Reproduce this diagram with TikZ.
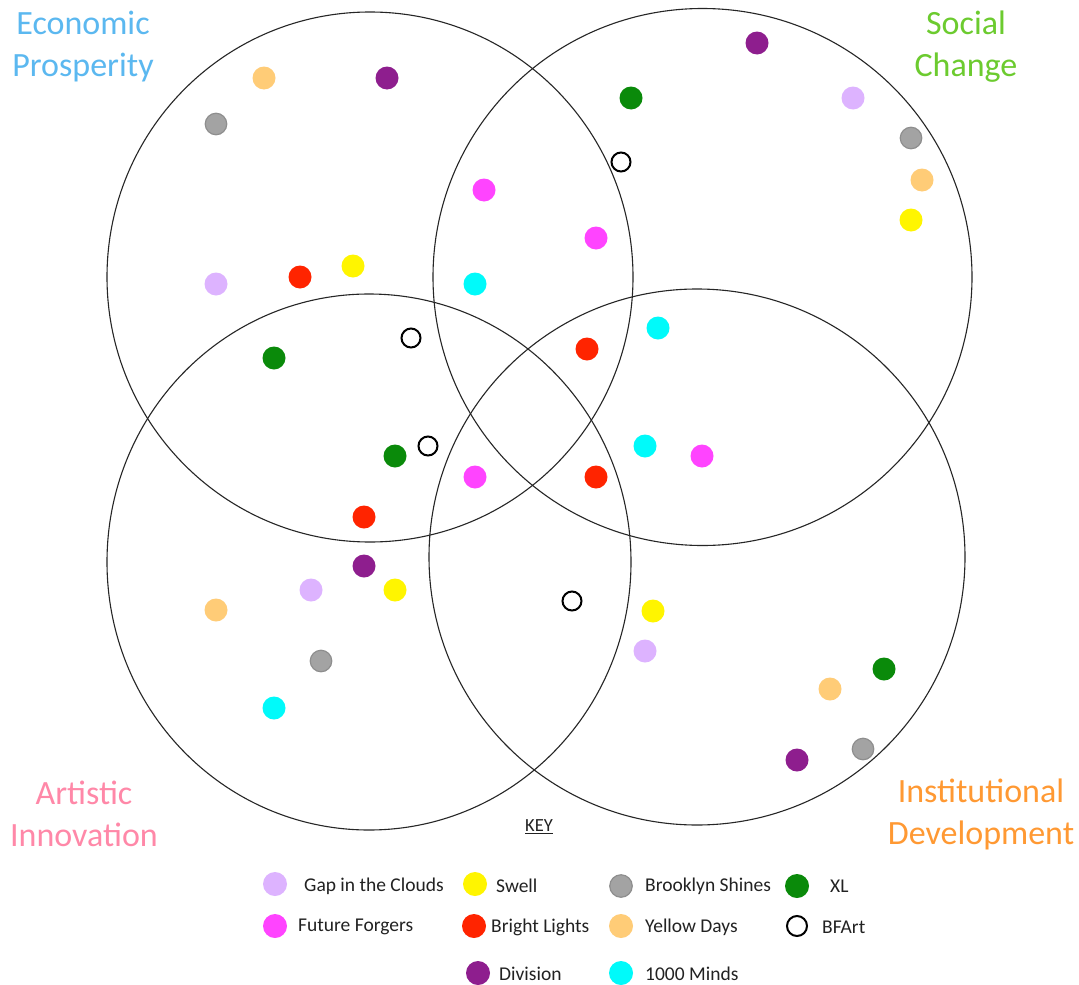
\documentclass[tikz,border=0pt]{standalone}
\usepackage{fontspec}
\setmainfont{Carlito}
\usetikzlibrary{shapes.geometric}
\definecolor{cgap}{HTML}{DDB3FF}
\definecolor{cswell}{HTML}{FFF500}
\definecolor{cbrook}{HTML}{A3A3A3}
\definecolor{cbrookb}{HTML}{8E8E8E}
\definecolor{cxl}{HTML}{0A8A0A}
\definecolor{cff}{HTML}{FF44FF}
\definecolor{cbl}{HTML}{FF2400}
\definecolor{cyd}{HTML}{FFCC77}
\definecolor{cdiv}{HTML}{8E1E8E}
\definecolor{cmind}{HTML}{00FAFA}
\definecolor{cecon}{HTML}{5BB8F0}
\definecolor{csoc}{HTML}{6CCB2F}
\definecolor{cart}{HTML}{FF88A8}
\definecolor{cinst}{HTML}{FF9933}
\definecolor{ctext}{HTML}{222222}
\tikzset{
  ring/.style={ellipse, draw=black!85, line width=1.1pt, inner sep=0pt, fill=none},
  dot/.style={circle, inner sep=0pt, minimum size=23pt, draw=none},
  gap/.style={dot, fill=cgap},
  swell/.style={dot, fill=cswell},
  brook/.style={dot, fill=cbrook, draw=cbrookb, line width=1.2pt, minimum size=21.5pt},
  xl/.style={dot, fill=cxl},
  ff/.style={dot, fill=cff},
  bl/.style={dot, fill=cbl},
  yd/.style={dot, fill=cyd},
  div/.style={dot, fill=cdiv},
  mind/.style={dot, fill=cmind},
  bfart/.style={dot, fill=white, draw=black, line width=2pt, minimum size=19pt},
  cat/.style={align=center, font=\fontsize{34}{42}\selectfont, inner sep=0pt},
  keytext/.style={anchor=west, inner sep=0pt, text=ctext, font=\fontsize{19.5}{22}\selectfont},
}
\begin{document}
\begin{tikzpicture}[x=1pt,y=-1pt]
\useasboundingbox (0,0) rectangle (1079,985);
\fill[white] (0,0) rectangle (1079,985);
% circles
\node[ring, minimum width=526pt, minimum height=530pt] (econ) at (370,277) {};
\node[ring, minimum width=539pt, minimum height=537pt] (soc) at (702.5,277) {};
\node[ring, minimum width=524pt, minimum height=536pt] (art) at (369,562) {};
\node[ring, minimum width=536pt, minimum height=536pt] (inst) at (697,557) {};
% category labels
\node[cat, text=cecon] (lecon) at (83,47) {Economic\\Prosperity};
\node[cat, text=csoc] (lsoc) at (966,47) {Social\\Change};
\node[cat, text=cart] (lart) at (84,814) {Artistic\\Innovation};
\node[cat, text=cinst] (linst) at (981,814) {Institutional\\Development};
% Economic dots
\node[yd] (e1) at (264,78) {};
\node[div] (e2) at (387,78) {};
\node[brook] (e3) at (216,124) {};
\node[gap] (e4) at (216,284) {};
\node[bl] (e5) at (300,277) {};
\node[swell] (e6) at (353,266) {};
\node[xl] (e7) at (274,358) {};
\node[bfart] (e8) at (411,338) {};
% Econ & Social
\node[ff] (es1) at (484,190) {};
\node[ff] (es2) at (596,238) {};
\node[mind] (es3) at (475,284) {};
% Social dots
\node[div] (s1) at (757,43) {};
\node[xl] (s2) at (631,98) {};
\node[gap] (s3) at (853,98) {};
\node[brook] (s4) at (911,138) {};
\node[yd] (s5) at (922,180) {};
\node[swell] (s6) at (911,220) {};
\node[bfart] (s7) at (621,162) {};
% Social & Institutional
\node[mind] (si1) at (658,328) {};
\node[bl] (si2) at (587,349) {};
\node[mind] (si3) at (645,446) {};
\node[ff] (si4) at (702,456) {};
\node[bl] (si5) at (596,477) {};
% centre-left
\node[xl] (c1) at (395,456) {};
\node[bfart] (c2) at (428,446) {};
\node[ff] (c3) at (475,477) {};
\node[bl] (c4) at (364,517) {};
% Artistic dots
\node[div] (a1) at (364,566) {};
\node[gap] (a2) at (311,590) {};
\node[swell] (a3) at (395,590) {};
\node[yd] (a4) at (216,610) {};
\node[brook] (a5) at (321,661) {};
\node[mind] (a6) at (274,708) {};
% Art & Inst
\node[bfart] (ai1) at (572,601) {};
% Institutional dots
\node[swell] (i1) at (653,611) {};
\node[gap] (i2) at (645,651) {};
\node[xl] (i3) at (884,669) {};
\node[yd] (i4) at (830,689) {};
\node[brook] (i5) at (863,749) {};
\node[div] (i6) at (797,760) {};
% Key
\node[inner sep=0pt, text=ctext, font=\fontsize{18.5}{20}\selectfont] (key) at (539,827) {\underline{KEY}};
\node[gap, minimum size=24pt] (k1) at (275,884) {};
\node[keytext] (k1t) at (304,886) {Gap in the Clouds};
\node[swell, minimum size=24pt] (k2) at (475,884) {};
\node[keytext] (k2t) at (496,886) {Swell};
\node[brook, minimum size=22.5pt] (k3) at (621,886) {};
\node[keytext] (k3t) at (645,886) {Brooklyn Shines};
\node[xl, minimum size=24pt] (k4) at (797,886) {};
\node[keytext] (k4t) at (830,886) {XL};
\node[ff, minimum size=24pt] (k5) at (275,926) {};
\node[keytext] (k5t) at (298,927) {Future Forgers};
\node[bl, minimum size=24pt] (k6) at (474,926) {};
\node[keytext] (k6t) at (491,927) {Bright Lights};
\node[yd, minimum size=24pt] (k7) at (621,926) {};
\node[keytext] (k7t) at (645,927) {Yellow Days};
\node[bfart, minimum size=20pt] (k8) at (797,926) {};
\node[keytext] (k8t) at (822,927) {BFArt};
\node[div, minimum size=24pt] (k9) at (478,973) {};
\node[keytext] (k9t) at (499,974) {Division};
\node[mind, minimum size=24pt] (k10) at (621,973) {};
\node[keytext] (k10t) at (645,974) {1000 Minds};
\end{tikzpicture}
\end{document}
